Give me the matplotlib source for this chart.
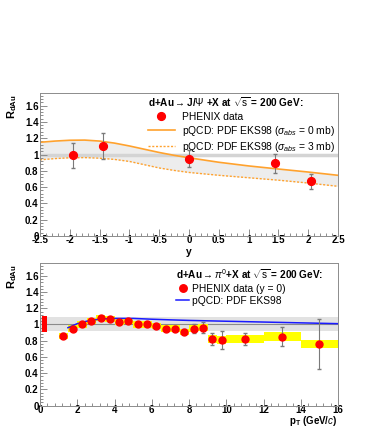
import matplotlib
matplotlib.use("Agg")
import matplotlib.pyplot as plt
from matplotlib.ticker import MultipleLocator
from matplotlib.patches import Rectangle
from matplotlib.lines import Line2D
import numpy as np

plt.rcParams['font.family'] = ['Liberation Sans', 'DejaVu Sans']
plt.rcParams['mathtext.fontset'] = 'custom'
plt.rcParams['mathtext.rm'] = 'Liberation Sans'
plt.rcParams['mathtext.it'] = 'Liberation Sans:italic'
plt.rcParams['mathtext.bf'] = 'Liberation Sans:bold'

# ---- J/psi vs rapidity (top)
jpsi_y = [-1.94, -1.45, 0.0, 1.44, 2.04]
jpsi_r = [0.99, 1.11, 0.95, 0.89, 0.67]
jpsi_err = [0.15, 0.16, 0.10, 0.12, 0.095]

model_y = [-2.5, -2.25, -2.0, -1.75, -1.5, -1.25, -1.0, -0.75, -0.5, -0.25, 0.0,
           0.5, 1.0, 1.5, 2.0, 2.5]
eks_0mb = [1.15, 1.165, 1.175, 1.177, 1.165, 1.14, 1.105, 1.065, 1.025, 0.99, 0.96,
           0.905, 0.86, 0.822, 0.785, 0.745]
eks_3mb = [0.935, 0.95, 0.96, 0.962, 0.955, 0.94, 0.915, 0.875, 0.835, 0.805, 0.78,
           0.745, 0.715, 0.685, 0.65, 0.61]

# ---- pi0 vs pT (bottom)
pi0_pt = [1.25, 1.75, 2.25, 2.75, 3.25, 3.75, 4.25, 4.75, 5.25, 5.75, 6.25, 6.75,
          7.25, 7.75, 8.25, 8.75, 9.25, 9.75, 11.0, 13.0, 15.0]
pi0_r = [0.86, 0.95, 1.0, 1.04, 1.08, 1.07, 1.03, 1.04, 1.0, 1.0, 0.98, 0.95,
         0.95, 0.91, 0.95, 0.96, 0.82, 0.81, 0.82, 0.85, 0.76]
pi0_stat = [0.03, 0.02, 0.02, 0.02, 0.02, 0.02, 0.02, 0.02, 0.02, 0.02, 0.02, 0.02,
            0.03, 0.03, 0.05, 0.07, 0.07, 0.11, 0.07, 0.12, 0.31]
pi0_binlo = [1.0, 1.5, 2.0, 2.5, 3.0, 3.5, 4.0, 4.5, 5.0, 5.5, 6.0, 6.5, 7.0, 7.5,
             8.0, 8.5, 9.0, 9.5, 10.0, 12.0, 14.0]
pi0_binhi = [1.5, 2.0, 2.5, 3.0, 3.5, 4.0, 4.5, 5.0, 5.5, 6.0, 6.5, 7.0, 7.5, 8.0,
             8.5, 9.0, 9.5, 10.0, 12.0, 14.0, 16.0]
pi0_sys = [0.04] * 16 + [0.045, 0.045, 0.05, 0.055, 0.05]

pqcd_pt = [1.5, 2.0, 2.5, 3.0, 3.5, 4.0, 5.0, 6.0, 7.0, 8.0, 10.0, 12.0, 14.0, 16.0]
pqcd_r = [0.96, 1.01, 1.04, 1.06, 1.07, 1.075, 1.075, 1.065, 1.057, 1.05, 1.04,
          1.03, 1.02, 1.01]

norm_band = (0.925, 1.095)
norm_err = (0.91, 1.11)

W, H = 376, 436
fig = plt.figure(figsize=(W / 100, H / 100), dpi=100)
ax1 = fig.add_axes([40 / W, 1 - 236 / H, 298 / W, 143 / H])
ax2 = fig.add_axes([40 / W, 1 - 405.5 / H, 298 / W, 142.2 / H])

frame = '#8c8c8c'
orange = '#ffa22e'


def style(ax, xmaj, xmin):
    ax.set_ylim(0, 1.755)
    ax.yaxis.set_major_locator(MultipleLocator(0.2))
    ax.yaxis.set_minor_locator(MultipleLocator(0.04))
    ax.xaxis.set_major_locator(MultipleLocator(xmaj))
    ax.xaxis.set_minor_locator(MultipleLocator(xmin))
    ax.tick_params(which='both', direction='in', top=False, right=False,
                   color=frame, width=0.7)
    ax.tick_params(which='major', length=5, labelsize=7, pad=1)
    ax.tick_params(which='minor', length=2.5)
    ax.tick_params(axis='x', pad=-0.5)
    for s in ax.spines.values():
        s.set_color(frame)
        s.set_linewidth(0.7)
    for lab in ax.get_xticklabels() + ax.get_yticklabels():
        lab.set_fontweight('bold')
    ax.yaxis.set_major_formatter(plt.FuncFormatter(lambda v, p: f'{v:g}'))
    ax.xaxis.set_major_formatter(plt.FuncFormatter(lambda v, p: f'{v:g}'))


# top panel
ax1.set_xlim(-2.5, 2.5)
ax1.axhline(1.0, color='#d4d4d4', lw=2.5, zorder=1)
ax1.fill_between(model_y, eks_3mb, eks_0mb, color='#ededed', lw=0, zorder=0)
l0, = ax1.plot(model_y, eks_0mb, color=orange, lw=1.2, zorder=2)
l3, = ax1.plot(model_y, eks_3mb, color=orange, lw=1.0, ls=(0, (1.5, 1.2)), zorder=2)
ax1.errorbar(jpsi_y, jpsi_r, yerr=jpsi_err, fmt='o', color='red', ms=5.6,
             mec='red', ecolor='#7a7a7a', elinewidth=0.8, capsize=1.2, zorder=3)
style(ax1, 0.5, 0.1)
dot1 = Line2D([], [], marker='o', color='red', ls='none', ms=5.6)
leg1 = ax1.legend([dot1, l0, l3],
                  ['PHENIX data',
                   r'pQCD: PDF EKS98 ($\sigma_{abs}$ = 0 mb)',
                   r'pQCD: PDF EKS98 ($\sigma_{abs}$ = 3 mb)'],
                  loc='upper left',
                  bbox_to_anchor=(0.362, 0.985), frameon=False, fontsize=7.4,
                  handlelength=2.6, handletextpad=0.7, borderpad=0,
                  borderaxespad=0, labelspacing=0.2, alignment='left',
                  title=r'd+Au$\rightarrow$J/$\Psi$ +X at $\sqrt{\mathrm{s}}$ = 200 GeV:',
                  title_fontproperties={'weight': 'bold', 'size': 7.2})
leg1._legend_box.sep = 2
fig.text(189 / W, 1 - 252 / H, 'y', ha='center', va='center',
         fontsize=7.5, fontweight='bold')

# bottom panel
ax2.set_xlim(0, 16)
ax2.axhspan(norm_band[0], norm_band[1], color='#e2e2e2', lw=0, zorder=0)
ax2.axhline(1.0, color='#8a8a8a', lw=0.8, zorder=1)
for lo, hi, r, s in zip(pi0_binlo, pi0_binhi, pi0_r, pi0_sys):
    ax2.add_patch(Rectangle((lo, r - s), hi - lo, 2 * s, color='yellow',
                            lw=0, zorder=2))
ax2.add_patch(Rectangle((0.1, norm_err[0]), 0.25, norm_err[1] - norm_err[0],
                        color='red', lw=0, zorder=3))
lb, = ax2.plot(pqcd_pt, pqcd_r, color='#1a1aff', lw=1.1, zorder=3)
ax2.errorbar(pi0_pt, pi0_r, yerr=pi0_stat, fmt='o', color='red', ms=5.0,
             mec='red', ecolor='#7a7a7a', elinewidth=0.8, capsize=1.2, zorder=4)
style(ax2, 2, 0.4)
dot2 = Line2D([], [], marker='o', color='red', ls='none', ms=5.4)
leg2 = ax2.legend([dot2, lb], ['PHENIX data (y = 0)', 'pQCD: PDF EKS98'],
                  loc='upper left',
                  bbox_to_anchor=(0.458, 0.972), frameon=False, fontsize=7.4,
                  handlelength=1.2, handletextpad=0.35, borderpad=0,
                  borderaxespad=0, labelspacing=0.2, alignment='left',
                  title=r'd+Au$\rightarrow\pi^0$+X at $\sqrt{\mathrm{s}}$ = 200 GeV:',
                  title_fontproperties={'weight': 'bold', 'size': 7.2})
leg2._legend_box.sep = 2
fig.text(337 / W, 1 - 421 / H, r'$\mathbf{p_T}$ (GeV/$\mathit{c}$)', ha='right',
         va='center', fontsize=7, fontweight='bold')

for top in (93, 263):
    fig.text(12 / W, 1 - (top + 1) / H, r'$\mathbf{R_{dAu}}$', rotation=90,
             ha='center', va='top', fontsize=8)

fig.savefig('out.png', dpi=100)
